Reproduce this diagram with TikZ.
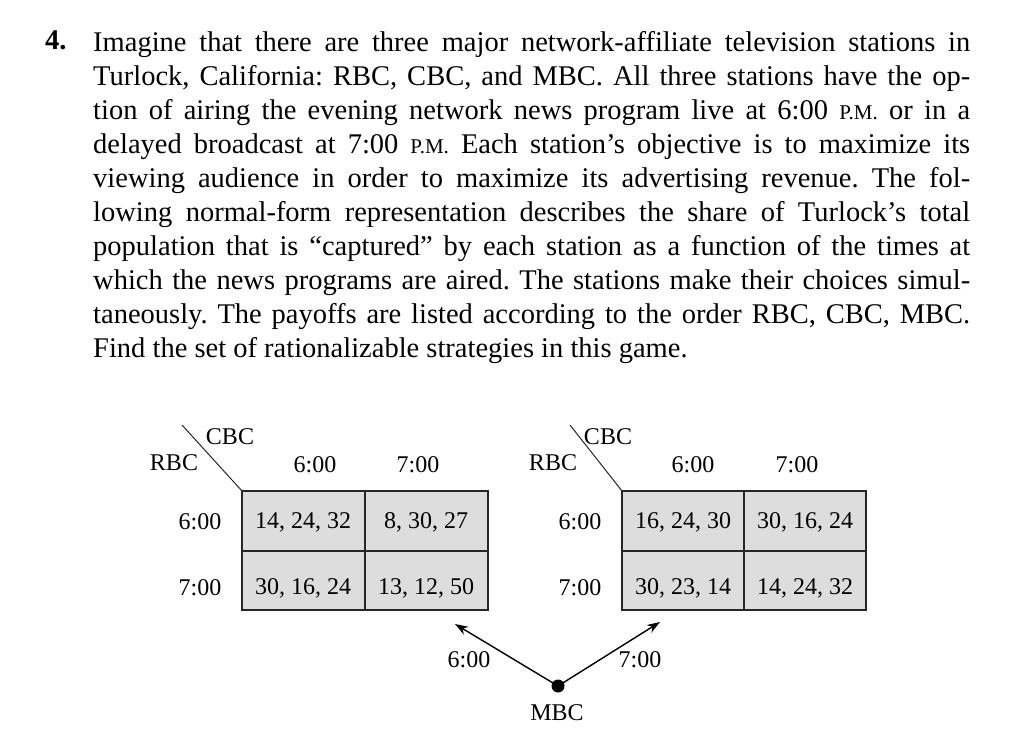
\documentclass[tikz,border=0pt]{standalone}
\usepackage{fontspec}
\setmainfont{Liberation Serif}
\usepackage{tikz}
\usetikzlibrary{arrows.meta}
\definecolor{cellgray}{RGB}{221,221,221}
\newcommand{\pmsc}{{\fontsize{21}{34}\selectfont P.M.}}
\begin{document}
\begin{tikzpicture}[x=1pt,y=-1pt,
  lab/.style={font=\fontsize{24}{28}\selectfont, inner sep=0pt},
  cell/.style={draw=black!85, fill=cellgray, line width=1.2pt},
  arr/.style={-{Stealth[length=13pt,width=9pt]}, line width=1.4pt}]
\useasboundingbox (0,0) rectangle (1024,743);
\node[anchor=north west, inner sep=0pt, font=\fontsize{28.5}{34}\selectfont\bfseries] (num) at (45,31) {4.};
\node[anchor=north west, inner sep=0pt, text width=877pt, align=justify, font=\fontsize{28.5}{34}\selectfont\frenchspacing] (para) at (93,31) {%
Imagine that there are three major network-affiliate television stations in\linebreak
Turlock, California: RBC, CBC, and MBC. All three stations have the op-\linebreak
tion of airing the evening network news program live at 6:00 \pmsc{} or in a\linebreak
delayed broadcast at 7:00 \pmsc{} Each station's objective is to maximize its\linebreak
viewing audience in order to maximize its advertising revenue. The fol-\linebreak
lowing normal-form representation describes the share of Turlock's total\linebreak
population that is ``captured'' by each station as a function of the times at\linebreak
which the news programs are aired. The stations make their choices simul-\linebreak
taneously. The payoffs are listed according to the order RBC, CBC, MBC.\linebreak
Find the set of rationalizable strategies in this game.\par};
% left table
\coordinate (Ltl) at (242,491);
\draw[cell] (242,491) rectangle (488,610);
\draw[black!85, line width=1.2pt] (365,491) -- (365,610) (242,551) -- (488,551);
\draw[black!85, line width=1pt] (182,425) -- (Ltl);
\node[lab] (lcbc) at (230,437) {CBC};
\node[lab] (lrbc) at (174,463) {RBC};
\node[lab] (lc1) at (315,465) {6:00};
\node[lab] (lc2) at (418,465) {7:00};
\node[lab] (lr1) at (200,522) {6:00};
\node[lab] (lr2) at (200,588) {7:00};
\node[lab] (l11) at (303,522) {14, 24, 32};
\node[lab] (l12) at (426,522) {8, 30, 27};
\node[lab] (l21) at (303,588) {30, 16, 24};
\node[lab] (l22) at (426,588) {13, 12, 50};
% right table
\coordinate (Rtl) at (622,491);
\draw[cell] (622,491) rectangle (866,610);
\draw[black!85, line width=1.2pt] (744,491) -- (744,610) (622,551) -- (866,551);
\draw[black!85, line width=1pt] (570,425) -- (Rtl);
\node[lab] (rcbc) at (608,437) {CBC};
\node[lab] (rrbc) at (553,463) {RBC};
\node[lab] (rc1) at (693,465) {6:00};
\node[lab] (rc2) at (797,465) {7:00};
\node[lab] (rr1) at (580,522) {6:00};
\node[lab] (rr2) at (580,588) {7:00};
\node[lab] (r11) at (683,522) {16, 24, 30};
\node[lab] (r12) at (805,522) {30, 16, 24};
\node[lab] (r21) at (683,588) {30, 23, 14};
\node[lab] (r22) at (805,588) {14, 24, 32};
% MBC
\node[circle, fill=black, inner sep=0pt, minimum size=13pt] (dot) at (558,686) {};
\coordinate (a1) at (455,624);
\coordinate (a2) at (660,622);
\draw[arr] (dot.center) -- (a1);
\draw[arr] (dot.center) -- (a2);
\node[lab] (m6) at (469,660) {6:00};
\node[lab] (m7) at (640,660) {7:00};
\node[lab] (mbc) at (557,713) {MBC};
\end{tikzpicture}
\end{document}
